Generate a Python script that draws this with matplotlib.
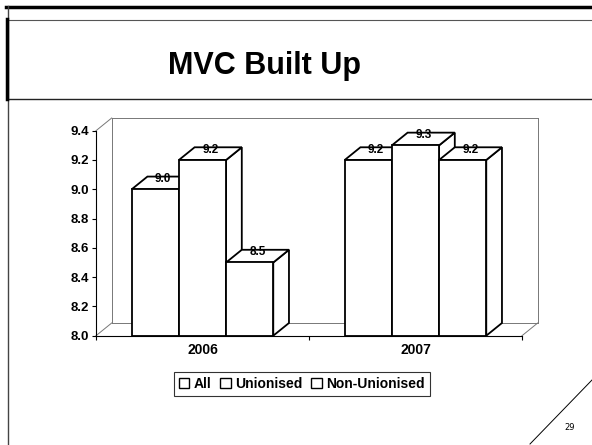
import matplotlib
matplotlib.use("Agg")
import matplotlib.pyplot as plt
from matplotlib.patches import Polygon, Rectangle
from matplotlib.lines import Line2D

plt.rcParams['font.family'] = ['Liberation Sans', 'DejaVu Sans']

title = "MVC Built Up"
categories = ["2006", "2007"]
series_names = ["All", "Unionised", "Non-Unionised"]
values_all = [9.0, 9.2]
values_union = [9.2, 9.3]
values_nonunion = [8.5, 9.2]
yticks = [8.0, 8.2, 8.4, 8.6, 8.8, 9.0, 9.2, 9.4]
page_number = "29"

W, H = 592, 445
fig = plt.figure(figsize=(W / 100, H / 100), dpi=100)

def fx(px):
    return px / W

def fy(py):
    return 1 - py / H

# ---- slide decoration (figure coordinates) ----
deco = [
    ((6, 592), (6.5, 6.5), 2.5, 'black'),
    ((8, 592), (19.5, 19.5), 0.8, '#555555'),
    ((8, 592), (98.5, 98.5), 1.0, '#222222'),
    ((7.5, 7.5), (6, 445), 1.0, '#444444'),
    ((7, 7), (19, 98.5), 2.5, 'black'),
    ((530, 592), (444, 380), 0.7, 'black'),
]
for xs, ys, lw, c in deco:
    fig.add_artist(Line2D([fx(x) for x in xs], [fy(y) for y in ys], lw=lw,
                          color=c, transform=fig.transFigure))
fig.text(fx(265), fy(66), title, fontsize=22, fontweight='bold',
         ha='center', va='center')
fig.text(fx(570), fy(428), page_number, fontsize=6, ha='center', va='center',
         family=['DejaVu Sans'])

# ---- chart axes: front plane ----
ax_l, ax_r, ax_t, ax_b = 96, 522, 130.7, 335.7
ax = fig.add_axes([fx(ax_l), fy(ax_b), fx(ax_r - ax_l), (ax_b - ax_t) / H])
ymin, ymax = yticks[0], yticks[-1]
ax.set_xlim(-0.5, len(categories) - 0.5)
ax.set_ylim(ymin, ymax)
for s in ['top', 'right']:
    ax.spines[s].set_visible(False)
ax.spines['left'].set_linewidth(0.8)
ax.spines['bottom'].set_linewidth(0.8)
ax.set_yticks(yticks)
ax.set_yticklabels([f"{t:.1f}" for t in yticks], fontsize=9.5, fontweight='bold')
ax.tick_params(axis='y', length=3, width=0.8, pad=2)
ax.set_xticks([i + 0.5 for i in range(-1, len(categories))], minor=False)
ax.set_xticklabels([])
ax.tick_params(axis='x', length=3, width=0.8, direction='out')
ax.set_xticks(range(len(categories)), minor=True)
ax.set_xticklabels(categories, minor=True, fontsize=10, fontweight='bold')
ax.tick_params(axis='x', which='minor', length=0, pad=5)
ax.patch.set_visible(False)

# depth offset in data units (pixel offsets converted)
px_per_x = (ax_r - ax_l) / len(categories)
px_per_y = (ax_b - ax_t) / (ymax - ymin)
ddx = 15.7 / px_per_x
ddy = 12.7 / px_per_y

# back wall and floor
wall_c = '#777777'
x0, x1 = -0.5, len(categories) - 0.5
wall = [
    ([x0, x0 + ddx], [ymax, ymax + ddy]),
    ([x0 + ddx, x1 + ddx], [ymax + ddy, ymax + ddy]),
    ([x0 + ddx, x0 + ddx], [ymin + ddy, ymax + ddy]),
    ([x1 + ddx, x1 + ddx], [ymin + ddy, ymax + ddy]),
    ([x0 + ddx, x1 + ddx], [ymin + ddy, ymin + ddy]),
    ([x0, x0 + ddx], [ymin, ymin + ddy]),
    ([x1, x1 + ddx], [ymin, ymin + ddy]),
]
for xs, ys in wall:
    ax.plot(xs, ys, color=wall_c, lw=0.7, clip_on=False, zorder=1)

series = [values_all, values_union, values_nonunion]
bw = 0.2215
nser = len(series)
z = 2
for ci in range(len(categories)):
    for si in range(nser):
        v = series[si][ci]
        left = ci - nser * bw / 2 + si * bw
        right = left + bw
        side = Polygon([(right, ymin), (right, v), (right + ddx, v + ddy),
                        (right + ddx, ymin + ddy)], closed=True, fc='white',
                       ec='black', lw=1.3, zorder=z, clip_on=False, joinstyle='miter')
        top = Polygon([(left, v), (right, v), (right + ddx, v + ddy),
                       (left + ddx, v + ddy)], closed=True, fc='white',
                      ec='black', lw=1.3, zorder=z + 0.1, clip_on=False, joinstyle='miter')
        ax.add_patch(side)
        ax.add_patch(top)
        ax.bar(left, v - ymin, width=bw, bottom=ymin, align='edge', color='white',
               edgecolor='black', lw=1.3, zorder=z + 0.2, clip_on=False)
        ax.text(left + bw / 2 + ddx / 2, v + ddy * 0.8, f"{v:.1f}", fontsize=8.5,
                fontweight='bold', ha='center', va='center', zorder=z + 0.15)
        z += 1

# legend
handles = [Rectangle((0, 0), 1, 1, fc='white', ec='black', lw=1.0) for _ in series_names]
leg = fig.legend(handles, series_names, loc='center', bbox_to_anchor=(fx(302), fy(383.7)),
                 ncol=3, frameon=True, fancybox=False, edgecolor='black',
                 prop={'size': 10, 'weight': 'bold'}, handlelength=0.75, handleheight=0.75,
                 handletextpad=0.35, columnspacing=0.6, borderpad=0.35, borderaxespad=0)
leg.get_frame().set_linewidth(0.8)

fig.savefig("out.png", dpi=100)
